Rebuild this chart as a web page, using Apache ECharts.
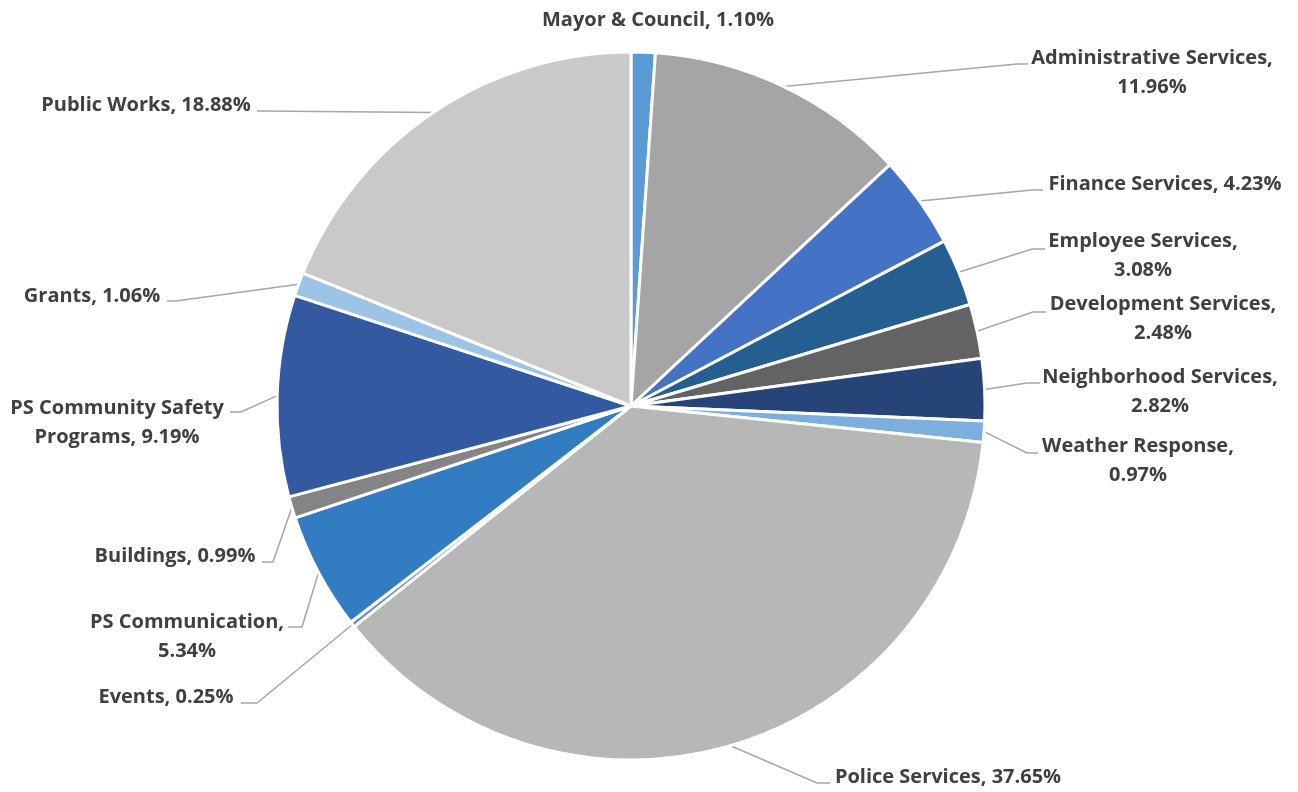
<!DOCTYPE html>
<html>
<head>
<meta charset="utf-8">
<title>Budget by Department</title>
<script src="https://cdn.jsdelivr.net/npm/echarts@6/dist/echarts.min.js"></script>
<style>
  html, body { margin: 0; padding: 0; background: #ffffff; }
  #chart { width: 1298px; height: 792px; }
</style>
</head>
<body>
<div id="chart"></div>
<script>
// Departments, clockwise from 12 o'clock
const departments = [
  'Mayor & Council',
  'Administrative Services',
  'Finance Services',
  'Employee Services',
  'Development Services',
  'Neighborhood Services',
  'Weather Response',
  'Police Services',
  'Events',
  'PS Communication',
  'Buildings',
  'PS Community Safety Programs',
  'Grants',
  'Public Works'
];

// Share of the budget, in percent
const shares = [1.10, 11.96, 4.23, 3.08, 2.48, 2.82, 0.97, 37.65, 0.25, 5.34, 0.99, 9.19, 1.06, 18.88];

// Slice fills
const sliceColors = [
  '#5B9BD5', '#A5A5A5', '#4472C4', '#255E91', '#636363', '#264478', '#7CAFDD',
  '#B7B7B7', '#698ED0', '#327DC2', '#848484', '#335AA1', '#9DC3E6', '#C9C9C9'
];

// How each label wraps: 'one' = single line, 'value' = value on second line,
// a number = break after that many words of the name
const labelWrap = ['one', 'value', 'one', 'value', 'value', 'value', 'value', 'one', 'one', 'value', 'one', 3, 'one', 'one'];

// Label text centre and leader-line elbow / end for each slice
const labelPlacement = [
  { x: 658,  y: 20,  elbow: null,       end: null },
  { x: 1152, y: 73,  elbow: [1017, 64], end: [1028, 64] },
  { x: 1165, y: 184, elbow: [1032, 190], end: [1043, 190] },
  { x: 1143, y: 256, elbow: [1032, 249], end: [1045, 249] },
  { x: 1163, y: 319, elbow: [1033, 312], end: [1046, 312] },
  { x: 1160, y: 392, elbow: [1027, 383], end: [1040, 383] },
  { x: 1138, y: 461, elbow: [1027, 453], end: [1038, 453] },
  { x: 948,  y: 777, elbow: [817, 783], end: [830, 783] },
  { x: 166,  y: 697, elbow: [257, 703], end: [241, 703] },
  { x: 187,  y: 637, elbow: [302, 627], end: [288, 627] },
  { x: 175,  y: 556, elbow: [273, 562], end: [262, 562] },
  { x: 117,  y: 423, elbow: [241, 412], end: [230, 412] },
  { x: 92,   y: 296, elbow: [176, 301], end: [167, 301] },
  { x: 146,  y: 105, elbow: [262, 111], end: [257, 111] }
];

function labelText(i) {
  const name = departments[i];
  const pct = shares[i].toFixed(2) + '%';
  const wrap = labelWrap[i];
  if (wrap === 'one') return name + ', ' + pct;
  if (wrap === 'value') return name + ',\n' + pct;
  const words = name.split(' ');
  return words.slice(0, wrap).join(' ') + '\n' + words.slice(wrap).join(' ') + ', ' + pct;
}

const chart = echarts.init(document.getElementById('chart'), null, { renderer: 'canvas' });

chart.setOption({
  backgroundColor: '#ffffff',
  animation: false,
  series: [{
    type: 'pie',
    center: [631, 406],
    radius: 354,
    startAngle: 90,
    clockwise: true,
    avoidLabelOverlap: false,
    itemStyle: { borderColor: '#ffffff', borderWidth: 3 },
    label: {
      show: true,
      position: 'outside',
      formatter: p => labelText(p.dataIndex),
      fontFamily: '"Open Sans", sans-serif',
      fontWeight: 'bold',
      fontSize: 20,
      lineHeight: 29,
      color: '#404040',
      align: 'center'
    },
    labelLine: {
      show: true,
      length: 20,
      length2: 10,
      lineStyle: { color: '#A6A6A6', width: 1.5 }
    },
    emphasis: { disabled: true },
    labelLayout: function (params) {
      const p = labelPlacement[params.dataIndex];
      const out = { x: p.x, y: p.y, align: 'center', verticalAlign: 'middle' };
      if (p.elbow && params.labelLinePoints) {
        out.labelLinePoints = [params.labelLinePoints[0], p.elbow, p.end];
      }
      return out;
    },
    data: departments.map((name, i) => ({
      name: name,
      value: shares[i],
      itemStyle: { color: sliceColors[i] },
      labelLine: { show: labelPlacement[i].elbow !== null }
    }))
  }]
});
</script>
</body>
</html>
